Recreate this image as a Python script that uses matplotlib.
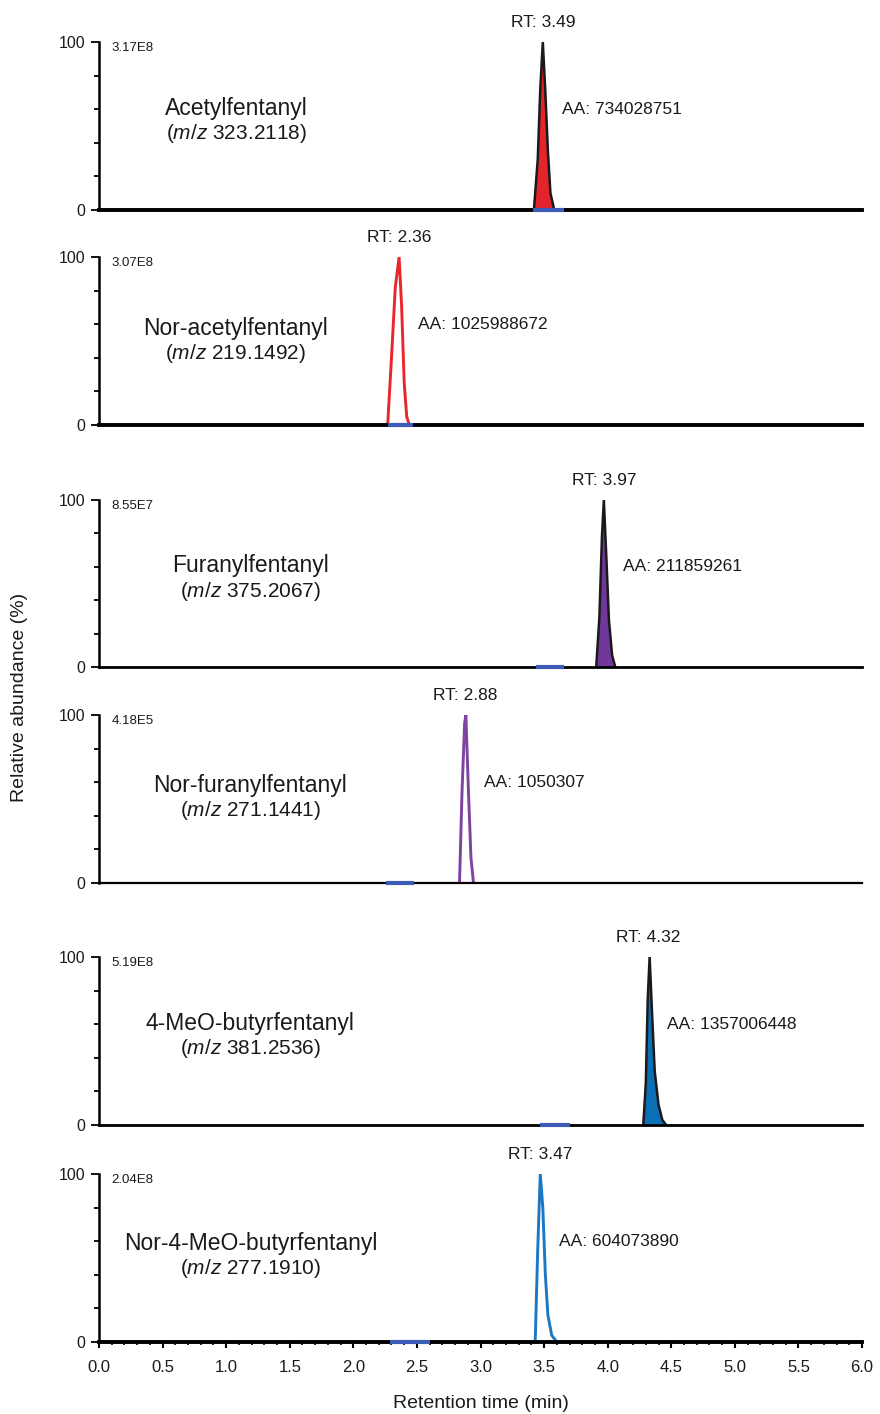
import matplotlib
matplotlib.use("Agg")
import matplotlib.pyplot as plt
from matplotlib.ticker import MultipleLocator

plt.rcParams["font.family"] = ["Liberation Sans", "DejaVu Sans"]
plt.rcParams["mathtext.fontset"] = "custom"
plt.rcParams["mathtext.rm"] = "Liberation Sans"
plt.rcParams["mathtext.it"] = "Liberation Sans:italic"

# compounds, one per panel (top to bottom)
names = ["Acetylfentanyl", "Nor-acetylfentanyl", "Furanylfentanyl",
         "Nor-furanylfentanyl", "4-MeO-butyrfentanyl", "Nor-4-MeO-butyrfentanyl"]
mz = ["323.2118", "219.1492", "375.2067", "271.1441", "381.2536", "277.1910"]
scales = ["3.17E8", "3.07E8", "8.55E7", "4.18E5", "5.19E8", "2.04E8"]
rts = [3.49, 2.36, 3.97, 2.88, 4.32, 3.47]
areas = ["734028751", "1025988672", "211859261", "1050307", "1357006448", "604073890"]

# peak traces (time in min, relative abundance in %)
peak_t = [
    [3.42, 3.45, 3.47, 3.49, 3.51, 3.53, 3.55, 3.58],
    [2.27, 2.30, 2.33, 2.36, 2.38, 2.40, 2.42, 2.44],
    [3.91, 3.935, 3.955, 3.97, 3.99, 4.01, 4.035, 4.06],
    [2.835, 2.855, 2.875, 2.885, 2.905, 2.925, 2.945],
    [4.28, 4.30, 4.315, 4.33, 4.35, 4.37, 4.40, 4.43, 4.46],
    [3.43, 3.45, 3.47, 3.49, 3.51, 3.53, 3.56, 3.60],
]
peak_y = [
    [0, 30, 72, 100, 70, 35, 10, 0],
    [0, 40, 82, 100, 70, 25, 5, 0],
    [0, 30, 78, 100, 65, 28, 7, 0],
    [0, 55, 95, 100, 55, 15, 0],
    [0, 25, 75, 100, 65, 32, 12, 3, 0],
    [0, 55, 100, 80, 40, 16, 4, 0],
]
# integration windows drawn on the baseline
win_start = [3.41, 2.27, 3.44, 2.26, 3.47, 2.29]
win_end = [3.66, 2.47, 3.66, 2.48, 3.70, 2.60]

# styling per panel
filled = [True, False, True, False, True, False]
colors = ["#e3242b", "#e8262c", "#70389a", "#7e44a0", "#0b6fb6", "#1c78c2"]
base_lw = [2.8, 2.8, 2.0, 1.6, 2.0, 2.8]
name_x = [1.08, 1.07, 1.19, 1.19, 1.19, 1.19]
name_y = [60.7, 57.7, 60.7, 58.3, 60.7, 58.9]

W, H = 880, 1414
# pixel rows of the 100 % and 0 % levels
top_px = [42, 257, 500, 715, 957, 1174]
bot_px = [210, 425, 667, 883, 1125, 1342]
left_px, right_px = 99, 862
txt = "#1a1a1a"

fig = plt.figure(figsize=(W / 100, H / 100), dpi=100)

for i in range(6):
    ax = fig.add_axes([left_px / W, 1 - bot_px[i] / H,
                       (right_px - left_px) / W, (bot_px[i] - top_px[i]) / H])
    ax.set_xlim(0, 6.0)
    ax.set_ylim(0, 100)
    for s in ["top", "right"]:
        ax.spines[s].set_visible(False)
    ax.spines["left"].set_linewidth(1.8)
    ax.spines["bottom"].set_linewidth(base_lw[i])
    ax.spines["bottom"].set_zorder(3)

    t, y = peak_t[i], peak_y[i]
    if filled[i]:
        ax.fill_between(t, y, 0, color=colors[i], zorder=2, lw=0)
        ax.plot(t, y, color="#1a1a1a", lw=1.8, zorder=2.5)
    else:
        ax.plot(t, y, color=colors[i], lw=2.1, zorder=2.5)
    ax.plot([win_start[i], win_end[i]], [0, 0], color="#3d5cb8", lw=3.0,
            solid_capstyle="butt", zorder=4, clip_on=False)

    ax.set_yticks([0, 100])
    ax.set_yticklabels(["0", "100"])
    ax.yaxis.set_minor_locator(MultipleLocator(20))
    ax.tick_params(axis="y", which="major", length=6, width=1.3, labelsize=11.5,
                   pad=4, labelcolor=txt)
    ax.tick_params(axis="y", which="minor", length=3.5, width=1.3)

    if i < 5:
        ax.set_xticks([])
    else:
        ax.xaxis.set_major_locator(MultipleLocator(0.5))
        ax.xaxis.set_minor_locator(MultipleLocator(0.1))
        ax.tick_params(axis="x", which="major", length=4, width=1.5, labelsize=12,
                       pad=9, labelcolor=txt)
        ax.tick_params(axis="x", which="minor", length=2.5, width=1.2)
        ax.set_xlabel("Retention time (min)", fontsize=14, labelpad=14, color=txt)

    ax.text(0.1, 100, scales[i], fontsize=9.5, va="top", ha="left", color=txt)
    ax.text(name_x[i], name_y[i], names[i], fontsize=16.5, ha="center",
            va="center", color=txt)
    ax.text(name_x[i], name_y[i] - 15.2, r"($\mathit{m/z}$ " + mz[i] + ")",
            fontsize=15, ha="center", va="center", color=txt)
    ax.text(rts[i], 107, "RT: %.2f" % rts[i], fontsize=12.5, ha="center",
            va="bottom", color=txt, clip_on=False)
    ax.text(rts[i] + 0.15, 60, "AA: " + areas[i], fontsize=12.5, ha="left",
            va="center", color=txt)

fig.text(20 / W, 1 - 697 / H, "Relative abundance (%)", rotation=90,
         fontsize=14, ha="center", va="center", color=txt)

fig.savefig("out.png", dpi=100)
